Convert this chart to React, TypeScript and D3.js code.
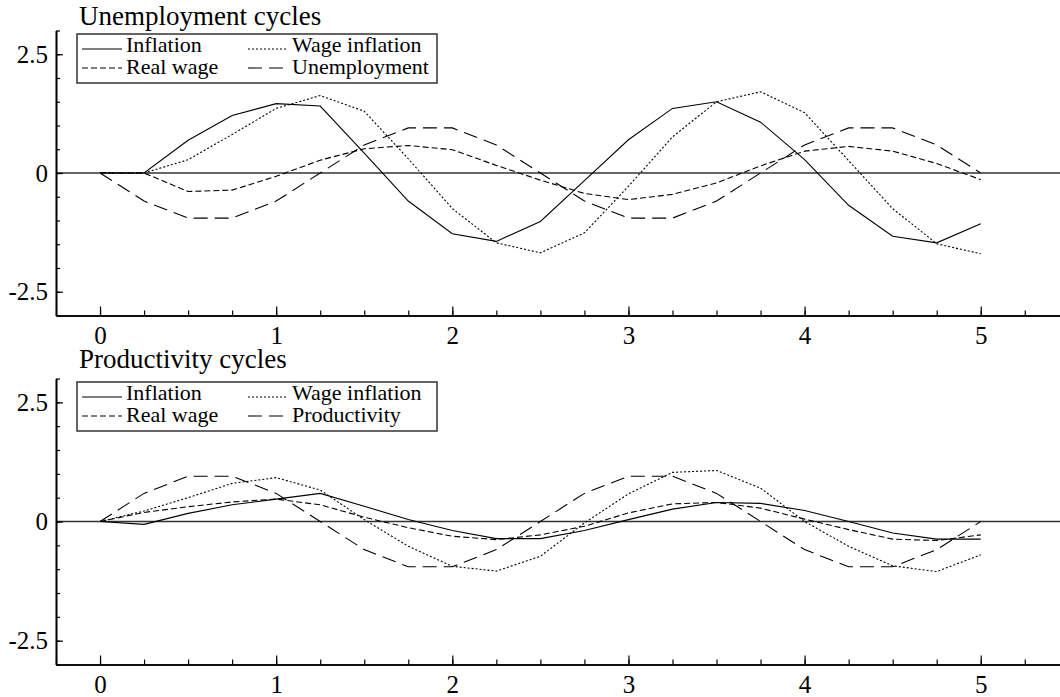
import React, { useEffect, useRef } from 'react';
import * as d3 from 'd3';

// quarters along the horizontal axis
const quarters = [0, 0.25, 0.5, 0.75, 1, 1.25, 1.5, 1.75, 2, 2.25, 2.5, 2.75, 3, 3.25, 3.5, 3.75, 4, 4.25, 4.5, 4.75, 5];

// unemployment shock panel
const unInflation = [0, 0, 0.69, 1.21, 1.46, 1.41, 0.42, -0.59, -1.28, -1.44, -1.02, -0.16, 0.7, 1.36, 1.5, 1.07, 0.28, -0.68, -1.33, -1.47, -1.07];
const unWageInflation = [0, 0, 0.28, 0.81, 1.36, 1.63, 1.3, 0.3, -0.75, -1.47, -1.68, -1.26, -0.28, 0.76, 1.5, 1.71, 1.27, 0.26, -0.75, -1.49, -1.7];
const unRealWage = [0, 0, -0.39, -0.36, -0.07, 0.27, 0.51, 0.58, 0.49, 0.16, -0.15, -0.43, -0.56, -0.45, -0.21, 0.15, 0.46, 0.56, 0.46, 0.2, -0.14];
const unUnemployment = [0, -0.59, -0.95, -0.95, -0.59, 0, 0.59, 0.95, 0.95, 0.59, 0, -0.59, -0.95, -0.95, -0.59, 0, 0.59, 0.95, 0.95, 0.59, 0];

// productivity shock panel
const prInflation = [0, -0.06, 0.17, 0.35, 0.47, 0.59, 0.32, 0.04, -0.19, -0.36, -0.36, -0.19, 0.04, 0.26, 0.4, 0.38, 0.23, 0, -0.24, -0.37, -0.37];
const prWageInflation = [0, 0.22, 0.5, 0.8, 0.92, 0.66, 0.04, -0.52, -0.94, -1.04, -0.73, -0.03, 0.58, 1.03, 1.07, 0.7, 0, -0.52, -0.93, -1.05, -0.7];
const prRealWage = [0, 0.19, 0.31, 0.41, 0.47, 0.35, 0.09, -0.13, -0.31, -0.38, -0.28, -0.1, 0.18, 0.37, 0.4, 0.28, 0.05, -0.17, -0.37, -0.4, -0.28];
const prProductivity = [0, 0.59, 0.95, 0.95, 0.59, 0, -0.59, -0.95, -0.95, -0.59, 0, 0.59, 0.95, 0.95, 0.59, 0, -0.59, -0.95, -0.95, -0.59, 0];

const xTicks = [0, 1, 2, 3, 4, 5];
const yTicks = [-2.5, 0, 2.5];

const dashes = ['none', '2,2', '6,3', '14,7'];

const panels = [
  {
    title: 'Unemployment cycles',
    titleY: 25,
    top: 30.5,
    bottom: 315.5,
    series: [
      { name: 'Inflation', values: unInflation },
      { name: 'Wage inflation', values: unWageInflation },
      { name: 'Real wage', values: unRealWage },
      { name: 'Unemployment', values: unUnemployment },
    ],
  },
  {
    title: 'Productivity cycles',
    titleY: 368,
    top: 378.5,
    bottom: 664.5,
    series: [
      { name: 'Inflation', values: prInflation },
      { name: 'Wage inflation', values: prWageInflation },
      { name: 'Real wage', values: prRealWage },
      { name: 'Productivity', values: prProductivity },
    ],
  },
];

const W = 1060;
const H = 697;
const left = 56;
const font = '"Liberation Serif", "Times New Roman", serif';

const App = () => {
  const ref = useRef<SVGSVGElement>(null);

  useEffect(() => {
    const svg = d3.select(ref.current);
    svg.selectAll('*').remove();

    const x = d3.scaleLinear().domain([-0.25, 5.45]).range([left, W]);
    const xMinor = d3.range(-0.25, 5.46, 0.25);
    const yMinor = d3.range(-3, 3.01, 0.5);

    panels.forEach((p) => {
      const y = d3.scaleLinear().domain([-3, 3]).range([p.bottom, p.top]);
      const g = svg.append('g').attr('font-family', font);

      g.append('text')
        .attr('x', 79)
        .attr('y', p.titleY)
        .attr('font-size', 27)
        .text(p.title);

      // zero line
      g.append('line')
        .attr('x1', left)
        .attr('x2', W)
        .attr('y1', y(0))
        .attr('y2', y(0))
        .attr('stroke', '#333')
        .attr('stroke-width', 1.5);

      const line = d3
        .line<number>()
        .x((d, i) => x(quarters[i]))
        .y((d) => y(d));

      p.series.forEach((s, i) => {
        g.append('path')
          .attr('d', line(s.values))
          .attr('fill', 'none')
          .attr('stroke', '#000')
          .attr('stroke-width', 1.1)
          .attr('stroke-dasharray', dashes[i]);
      });

      // axes: minor ticks first, then labelled majors
      const xMinorAxis = d3.axisBottom(x).tickValues(xMinor).tickSize(-5).tickSizeOuter(0);
      const xAxis = d3.axisBottom(x).tickValues(xTicks).tickSize(-9).tickSizeOuter(0).tickPadding(11).tickFormat((d) => String(d));
      const yMinorAxis = d3.axisLeft(y).tickValues(yMinor).tickSize(-4).tickSizeOuter(0);
      const yAxis = d3.axisLeft(y).tickValues(yTicks).tickSize(-7).tickSizeOuter(0).tickPadding(8).tickFormat((d) => String(d));

      g.append('g').attr('transform', `translate(0,${p.bottom})`).call(xMinorAxis).selectAll('text').remove();
      g.append('g').attr('transform', `translate(0,${p.bottom})`).call(xAxis);
      g.append('g').attr('transform', `translate(${left},0)`).call(yMinorAxis).selectAll('text').remove();
      g.append('g').attr('transform', `translate(${left},0)`).call(yAxis);

      g.selectAll('.domain').attr('stroke', '#000').attr('stroke-width', 1.6);
      g.selectAll('.tick line').attr('stroke', '#000').attr('stroke-width', 1.2);
      g.selectAll('.tick text').attr('font-size', 25).attr('font-family', font).attr('fill', '#000');

      // legend
      const lg = g.append('g').attr('transform', `translate(77,${p.top + 3.5})`);
      lg.append('rect')
        .attr('width', 360)
        .attr('height', 49)
        .attr('fill', '#fff')
        .attr('stroke', '#333')
        .attr('stroke-width', 1.5);
      const cols = [5, 171];
      const rowLine = [15, 34];
      const rowText = [18, 40];
      p.series.forEach((s, si) => {
        const c = si % 2;
        const r = Math.floor(si / 2);
        lg.append('line')
          .attr('x1', cols[c])
          .attr('x2', cols[c] + 40)
          .attr('y1', rowLine[r])
          .attr('y2', rowLine[r])
          .attr('stroke', '#000')
          .attr('stroke-width', 1.1)
          .attr('stroke-dasharray', dashes[si]);
        lg.append('text')
          .attr('x', cols[c] + 44)
          .attr('y', rowText[r])
          .attr('font-size', 22)
          .text(s.name);
      });
    });
  }, []);

  return (
    <svg
      ref={ref}
      width={W}
      height={H}
      style={{ position: 'absolute', left: 0, top: 0, background: '#fff' }}
    />
  );
};

export default App;
